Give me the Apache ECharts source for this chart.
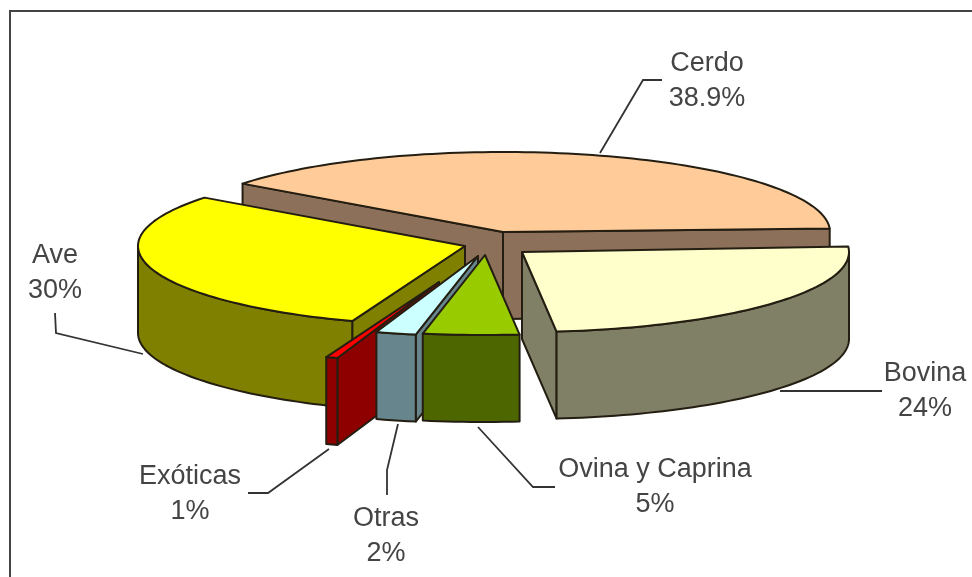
<!DOCTYPE html>
<html>
<head>
<meta charset="utf-8">
<style>
html,body{margin:0;padding:0;background:#fff}
#c{width:972px;height:577px;filter:blur(0.6px)}
</style>
<script src="https://cdn.jsdelivr.net/npm/echarts@6/dist/echarts.min.js"></script>
</head>
<body>
<div id="c"></div>
<script>
// Data
const categories = ['Cerdo', 'Ave', 'Exóticas', 'Otras', 'Ovina y Caprina', 'Bovina'];
const values = [38.9, 30, 1, 2, 5, 24];
const valueLabels = ['38.9%', '30%', '1%', '2%', '5%', '24%'];

// Style and layout
const topColors  = ['#FFCC99', '#FFFF00', '#FF0000', '#CCFFFF', '#99CC00', '#FFFFCC'];
const sideColors = ['#8C7059', '#808000', '#8E0000', '#66858C', '#4D6600', '#808066'];
const explode = [[0, 0], [-38, 14], [-64, 50], [-25, 24], [-18, 23], [19, 20]];
// small hand corrections of the end cut of each slice, in degrees
const cutNudge = [1.5, 1.5, 0, 0, -0.8, 1.5];
const labelPos = [[707, 64], [55, 256], [190, 477], [386, 519], [655, 470], [925, 374]];
const leaders = [
  [[600, 153], [643, 80], [662, 80]],
  [[143, 354], [56, 333], [55, 313]],
  [[329, 449], [268, 493], [248, 493]],
  [[398, 424], [387, 470], [387, 495]],
  [[478, 427], [533, 487], [555, 487]],
  [[780, 391], [882, 391]]
];
const CX = 503, CY = 232, RX = 327, RY = 80, DEPTH = 87, START = 2.5;
const EDGE = '#241e12', TEXT = '#444444';
const FONT = '"Liberation Sans", Arial, sans-serif';

const total = values.reduce((a, b) => a + b, 0);

function pt(cx, cy, deg) {
  const r = deg * Math.PI / 180;
  return [cx + RX * Math.cos(r), cy - RY * Math.sin(r)];
}
function poly(points, fill) {
  return {
    type: 'polygon',
    shape: { points },
    style: { fill, stroke: EDGE, lineWidth: 2, lineJoin: 'round' }
  };
}
function arc(cx, cy, a, b, dy) {
  const out = [];
  const n = Math.max(2, Math.ceil(Math.abs(b - a) / 1.5));
  for (let i = 0; i <= n; i++) {
    const p = pt(cx, cy, a + (b - a) * i / n);
    out.push([p[0], p[1] + dy]);
  }
  return out;
}
function endAngle(i) {
  let sum = 0;
  for (let k = 0; k <= i; k++) sum += values[k];
  return START + sum / total * 360 + cutNudge[i];
}

function renderSlice(params) {
  const i = params.dataIndex;
  const a0 = i === 0 ? START : endAngle(i - 1);
  const a1 = endAngle(i);
  const cx = CX + explode[i][0], cy = CY + explode[i][1];
  const top = [[cx, cy]].concat(arc(cx, cy, a0, a1, 0));
  const kids = [];
  const face = (deg) => {
    const e = pt(cx, cy, deg);
    return poly([[cx, cy], e, [e[0], e[1] + DEPTH], [cx, cy + DEPTH]], sideColors[i]);
  };
  // cut faces that look toward the viewer
  const norm = d => ((d % 360) + 360) % 360;
  if (norm(a0) >= 270 || norm(a0) < 90) kids.push(face(a0));
  if (norm(a1) > 90 && norm(a1) < 270) kids.push(face(a1));
  // outer wall, front half only
  const w0 = Math.max(a0, 180), w1 = Math.min(a1, 360);
  if (w1 > w0) {
    kids.push(poly(arc(cx, cy, w0, w1, 0).concat(arc(cx, cy, w1, w0, DEPTH)), sideColors[i]));
  }
  kids.push(poly(top, topColors[i]));
  return { type: 'group', children: kids };
}

function renderLabel(params) {
  const i = params.dataIndex;
  const [x, y] = labelPos[i];
  const style = { fill: TEXT, font: '27px ' + FONT, align: 'center', verticalAlign: 'middle' };
  return {
    type: 'group',
    children: [
      { type: 'polyline', shape: { points: leaders[i] }, style: { stroke: '#333', lineWidth: 1.8, fill: 'none' } },
      { type: 'text', x, y, style: Object.assign({ text: categories[i] }, style) },
      { type: 'text', x, y: y + 35, style: Object.assign({ text: valueLabels[i] }, style) }
    ]
  };
}

const chart = echarts.init(document.getElementById('c'), null, { renderer: 'canvas' });
chart.setOption({
  animation: false,
  backgroundColor: '#ffffff',
  graphic: [{
    type: 'polyline',
    silent: true,
    shape: { points: [[10, 577], [10, 11], [972, 11]] },
    style: { stroke: '#444', lineWidth: 2, fill: 'none' }
  }],
  series: [
    { type: 'custom', coordinateSystem: 'none', renderItem: renderSlice, data: values.map(v => [v]), silent: true },
    { type: 'custom', coordinateSystem: 'none', renderItem: renderLabel, data: values.map(v => [v]), silent: true }
  ]
});
</script>
</body>
</html>
